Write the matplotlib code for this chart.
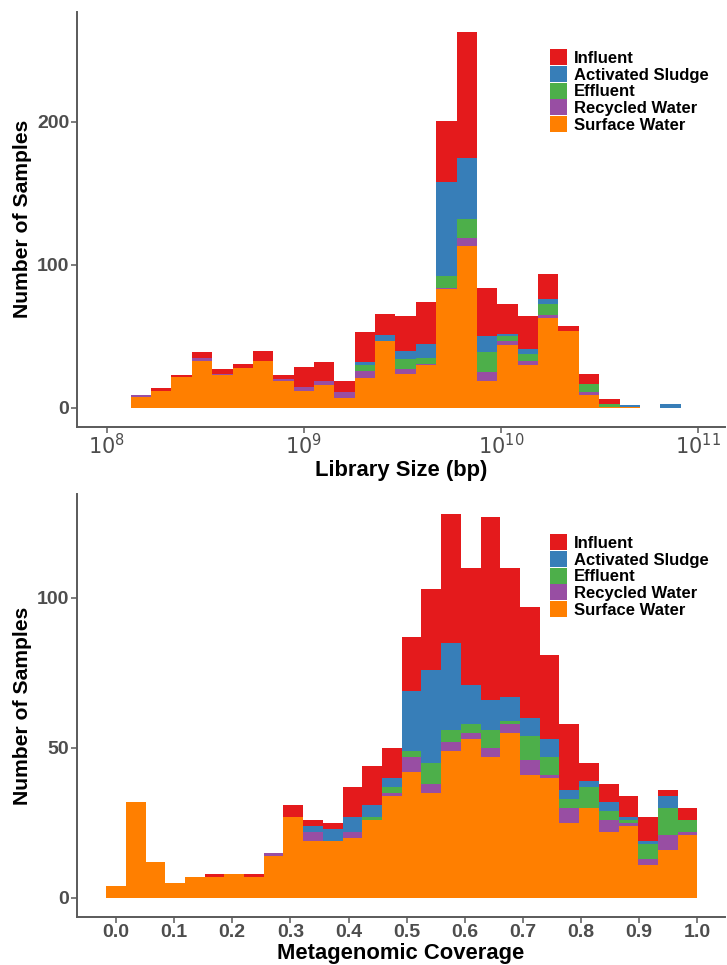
import numpy as np
import matplotlib
matplotlib.use("Agg")
import matplotlib.pyplot as plt
from matplotlib.patches import Patch

plt.rcParams['font.family'] = ['Liberation Sans', 'DejaVu Sans']

# Sample-type categories (legend order) and their colours
categories = ["Influent", "Activated Sludge", "Effluent", "Recycled Water", "Surface Water"]
colors = {"Influent": "#E41A1C", "Activated Sludge": "#377EB8", "Effluent": "#4DAF4A",
          "Recycled Water": "#984EA3", "Surface Water": "#FF7F00"}

# Library size histogram: log10 bins
lib_edges_log = np.linspace(8.122, 10.911, 28)
lib_surface = [8, 12, 22, 33, 23, 28, 33, 19, 12, 16, 7, 21, 47, 24, 30, 83, 113, 19, 44, 30, 63, 54, 9, 1, 1, 0, 0]
lib_recycled = [1, 0, 0, 2, 1, 0, 0, 1, 3, 3, 4, 5, 0, 3, 1, 1, 6, 6, 3, 3, 2, 0, 2, 0, 0, 0, 0]
lib_effluent = [0, 0, 0, 0, 0, 0, 0, 0, 0, 0, 0, 4, 0, 7, 4, 8, 13, 14, 3, 5, 8, 0, 6, 2, 0, 0, 0]
lib_sludge = [0, 0, 0, 0, 0, 0, 0, 0, 0, 0, 0, 2, 4, 6, 10, 66, 43, 11, 2, 3, 3, 0, 0, 0, 1, 0, 3]
lib_influent = [0, 2, 1, 4, 3, 3, 7, 3, 14, 13, 8, 21, 15, 24, 29, 43, 88, 34, 21, 23, 18, 3, 7, 3, 0, 0, 0]

# Metagenomic coverage histogram
cov_edges = np.linspace(-0.0169, 1.0, 31)
cov_surface = [4, 32, 12, 5, 7, 7, 8, 7, 14, 27, 19, 19, 20, 26, 34, 42, 35, 49, 53, 47, 55, 41, 40, 25, 30, 22, 24, 11, 16, 21]
cov_recycled = [0, 0, 0, 0, 0, 0, 0, 0, 1, 0, 3, 0, 2, 0, 1, 5, 3, 3, 2, 3, 3, 5, 1, 5, 0, 4, 1, 2, 5, 1]
cov_effluent = [0, 0, 0, 0, 0, 0, 0, 0, 0, 0, 0, 0, 0, 1, 2, 2, 7, 4, 3, 6, 1, 8, 6, 3, 7, 3, 1, 5, 9, 4]
cov_sludge = [0, 0, 0, 0, 0, 0, 0, 0, 0, 0, 2, 4, 5, 4, 3, 20, 31, 29, 13, 10, 8, 6, 6, 3, 2, 3, 1, 1, 4, 0]
cov_influent = [0, 0, 0, 0, 0, 1, 0, 1, 0, 4, 2, 2, 10, 13, 10, 18, 27, 43, 39, 61, 43, 37, 28, 22, 6, 6, 7, 8, 2, 4]

W, H = 727, 965
fig = plt.figure(figsize=(W / 100, H / 100), dpi=100)


def px_axes(left, top, right, bottom):
    return fig.add_axes([left / W, 1 - bottom / H, (right - left) / W, (bottom - top) / H])


ax1 = px_axes(76.7, 11.6, 725, 427)
ax2 = px_axes(76.7, 494, 725, 917)

axis_grey = "#5A5A5A"
tick_grey = "#4D4D4D"


def stack(ax, left, width, series):
    base = np.zeros(len(left))
    for name, vals in series:
        vals = np.asarray(vals, dtype=float)
        ax.bar(left, vals, width=width, bottom=base, align="edge",
               color=colors[name], linewidth=0)
        base += vals


def style(ax):
    for s in ("top", "right"):
        ax.spines[s].set_visible(False)
    for s in ("left", "bottom"):
        ax.spines[s].set_color(axis_grey)
        ax.spines[s].set_linewidth(1.4)
    ax.tick_params(axis="both", colors=axis_grey, length=4, width=1.1,
                   labelcolor=tick_grey, pad=1.2)
    ax.tick_params(axis="y", labelsize=14)
    for t in ax.get_yticklabels():
        t.set_fontweight("bold")
    ax.set_ylabel("Number of Samples", fontsize=15.2, fontweight="bold", labelpad=4)


def legend(ax, top_px):
    handles = [Patch(facecolor=colors[c], edgecolor="none") for c in categories]
    fig.legend(handles, categories, loc="upper left",
               bbox_to_anchor=(550 / W, 1 - top_px / H), frameon=False,
               prop={"weight": "bold", "size": 12}, handlelength=1.04, handleheight=1.1,
               handletextpad=0.42, labelspacing=0.0, borderpad=0, borderaxespad=0)


# Top panel: library size
lib_left = 10 ** lib_edges_log[:-1]
lib_width = 10 ** lib_edges_log[1:] - lib_left
order = [("Surface Water", lib_surface), ("Recycled Water", lib_recycled),
         ("Effluent", lib_effluent), ("Activated Sludge", lib_sludge),
         ("Influent", lib_influent)]
stack(ax1, lib_left, lib_width, order)
ax1.set_xscale("log")
ax1.set_xlim(10 ** 7.848, 10 ** 11.136)
ax1.set_ylim(-13.3, 277.2)
ax1.set_xticks([1e8, 1e9, 1e10, 1e11])
ax1.set_xticklabels([r"$10^{8}$", r"$10^{9}$", r"$10^{10}$", r"$10^{11}$"])
ax1.xaxis.set_minor_locator(matplotlib.ticker.NullLocator())
ax1.set_yticks([0, 100, 200])
style(ax1)
ax1.tick_params(axis="x", labelsize=15, pad=0.5)
ax1.set_xlabel("Library Size (bp)", fontsize=15.8, fontweight="bold", labelpad=1)
legend(ax1, 49.3)

# Bottom panel: metagenomic coverage
cov_left = cov_edges[:-1]
cov_width = np.diff(cov_edges)
order = [("Surface Water", cov_surface), ("Recycled Water", cov_recycled),
         ("Effluent", cov_effluent), ("Activated Sludge", cov_sludge),
         ("Influent", cov_influent)]
stack(ax2, cov_left, cov_width, order)
ax2.set_xlim(-0.0675, 1.0475)
ax2.set_ylim(-6.4, 134.5)
ax2.set_xticks(np.round(np.arange(0, 1.01, 0.1), 1))
ax2.set_xticklabels([f"{v:.1f}" for v in np.arange(0, 1.01, 0.1)])
ax2.set_yticks([0, 50, 100])
style(ax2)
ax2.tick_params(axis="x", labelsize=14)
for t in ax2.get_xticklabels():
    t.set_fontweight("bold")
ax2.set_xlabel("Metagenomic Coverage", fontsize=15.8, fontweight="bold", labelpad=1)
legend(ax2, 534.3)

fig.savefig("out.png", dpi=100)
